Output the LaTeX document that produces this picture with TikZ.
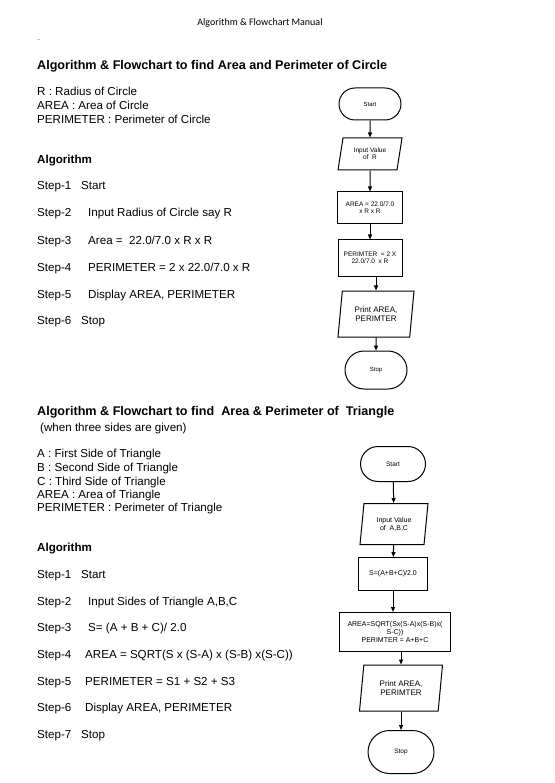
\documentclass[tikz,border=0pt]{standalone}
\usepackage{fontspec}
\setmainfont{Liberation Sans}
\newfontfamily\headfont{Carlito}
\usetikzlibrary{arrows.meta}
\usetikzlibrary{positioning}
\usetikzlibrary{shapes.geometric}
\usetikzlibrary{shapes.misc}

\tikzset{
  txt/.style={anchor=base west, inner sep=0pt, font=\fontsize{11.6}{13}\selectfont},
  ttl/.style={anchor=base west, inner sep=0pt, font=\bfseries\fontsize{12.6}{14}\selectfont},
  term/.style={draw, rounded rectangle, line width=1pt, inner sep=1pt, align=center},
  io/.style={draw, trapezium, trapezium left angle=#1, trapezium right angle=180-#1,
    trapezium stretches body, line width=1pt, inner sep=1pt, align=center},
  io/.default=70,
  proc/.style={draw, rectangle, line width=1pt, inner sep=1pt, align=center},
  flow/.style={-{Triangle[length=5pt,width=4pt]}, line width=1pt},
}

\begin{document}
\begin{tikzpicture}[x=1pt,y=-1pt]
\useasboundingbox[fill=white] (0,0) rectangle (554,783);

% page header
\node[inner sep=0pt, font=\headfont\fontsize{10}{12}\selectfont] (head) at (260,23) {Algorithm \& Flowchart Manual};
\node[txt, font=\fontsize{6}{7}\selectfont] (dots) at (37,41) {..};

% ---- circle ----
\node[ttl] (title1) at (37,70) {Algorithm \& Flowchart to find Area and Perimeter of Circle};
\node[txt] (var1r) at (37,96) {R : Radius of Circle};
\node[txt] (var1a) at (37,110) {AREA : Area of Circle};
\node[txt] (var1p) at (37,124) {PERIMETER : Perimeter of Circle};
\node[ttl, font=\bfseries\fontsize{11.6}{13}\selectfont] (algo1) at (37,164) {Algorithm};

\foreach \n/\y/\x/\t in {1/190/81/Start, 2/217/88/Input Radius of Circle say R,
  3/244/88/{Area =\ \ 22.0/7.0 x R x R}, 4/271/88/{PERIMETER = 2 x 22.0/7.0 x R},
  5/298/88/{Display AREA, PERIMETER}, 6/324/81/Stop}
{
\node[txt] (c-step\n) at (37,\y) {Step-\n};
\node[txt] (c-text\n) at (\x,\y) {\t};
}

% flowchart for circle
\node[term, minimum width=64pt, minimum height=32pt, font=\fontsize{6}{7}\selectfont] (start1) at (370,104) {Start};
\node[io, minimum width=64pt, minimum height=32pt, font=\fontsize{6.5}{7}\selectfont] (input1) at (370,154) {Input Value\\of\ \ R};
\node[proc, minimum width=65pt, minimum height=32pt, font=\fontsize{6.5}{7}\selectfont] (area1) at (370,208) {AREA = 22.0/7.0\\x R x R};
\node[proc, minimum width=64pt, minimum height=36pt, font=\fontsize{6.5}{7}\selectfont] (perim1) at (370,258) {PERIMTER\ \ = 2 X\\22.0/7.0\ \ x R};
\node[io=76, minimum width=76pt, minimum height=46pt, font=\fontsize{8}{9.5}\selectfont] (print1) at (376,314) {Print AREA,\\PERIMTER};
\node[term, minimum width=64pt, minimum height=38pt, font=\fontsize{6}{7}\selectfont] (stop1) at (376,370) {Stop};

\draw[flow] (start1) -- (input1);
\draw[flow] (input1) -- (area1);
\draw[flow] (area1) -- (perim1);
\draw[flow] (perim1.south -| print1.north) -- (print1.north);
\draw[flow] (print1) -- (stop1);

% ---- triangle ----
\node[ttl] (title2) at (37,415) {Algorithm \& Flowchart to find\ \ Area \& Perimeter of\ \ Triangle};
\node[txt] (when2) at (40,431) {(when three sides are given)};
\node[txt] (var2a) at (37,457) {A : First Side of Triangle};
\node[txt] (var2b) at (37,471) {B : Second Side of Triangle};
\node[txt] (var2c) at (37,485) {C : Third Side of Triangle};
\node[txt] (var2r) at (37,498) {AREA : Area of Triangle};
\node[txt] (var2p) at (37,511) {PERIMETER : Perimeter of Triangle};
\node[ttl, font=\bfseries\fontsize{11.6}{13}\selectfont] (algo2) at (37,551) {Algorithm};

\foreach \n/\y/\x/\t in {1/578/81/Start, 2/605/88/{Input Sides of Triangle A,B,C},
  3/631/88/{S= (A + B + C)/ 2.0}, 4/658/85/{AREA = SQRT(S x (S-A) x (S-B) x(S-C))},
  5/685/85/PERIMETER = S1 + S2 + S3, 6/711/85/{Display AREA, PERIMETER}, 7/738/81/Stop}
{
\node[txt] (t-step\n) at (37,\y) {Step-\n};
\node[txt] (t-text\n) at (\x,\y) {\t};
}

% flowchart for triangle
\node[term, minimum width=67pt, minimum height=35pt, font=\fontsize{6.5}{7}\selectfont] (start2) at (393,464) {Start};
\node[io=76, minimum width=68pt, minimum height=41pt, font=\fontsize{7}{8}\selectfont] (input2) at (394,524) {Input Value\\of\ \ A,B,C};
\node[proc, minimum width=69pt, minimum height=33pt, font=\fontsize{7}{8}\selectfont] (semi2) at (393,574) {S=(A+B+C)/2.0};
\node[proc, minimum width=111pt, minimum height=39pt, font=\fontsize{7}{8}\selectfont] (area2) at (395,632) {AREA=SQRT(Sx(S-A)x(S-B)x(\\S-C))\\PERIMTER = A+B+C};
\node[io=76, minimum width=83pt, minimum height=46pt, font=\fontsize{8}{9.5}\selectfont] (print2) at (401,688) {Print AREA,\\PERIMTER};
\node[term, minimum width=68pt, minimum height=43pt, font=\fontsize{6.5}{7}\selectfont] (stop2) at (401,752) {Stop};

\draw[flow] (start2) -- (input2);
\draw[flow] (input2) -- (semi2);
\draw[flow] (semi2) -- (area2.north -| semi2.south);
\draw[flow] (area2.south -| print2.north) -- (print2.north);
\draw[flow] (print2) -- (stop2);

\end{tikzpicture}
\end{document}
